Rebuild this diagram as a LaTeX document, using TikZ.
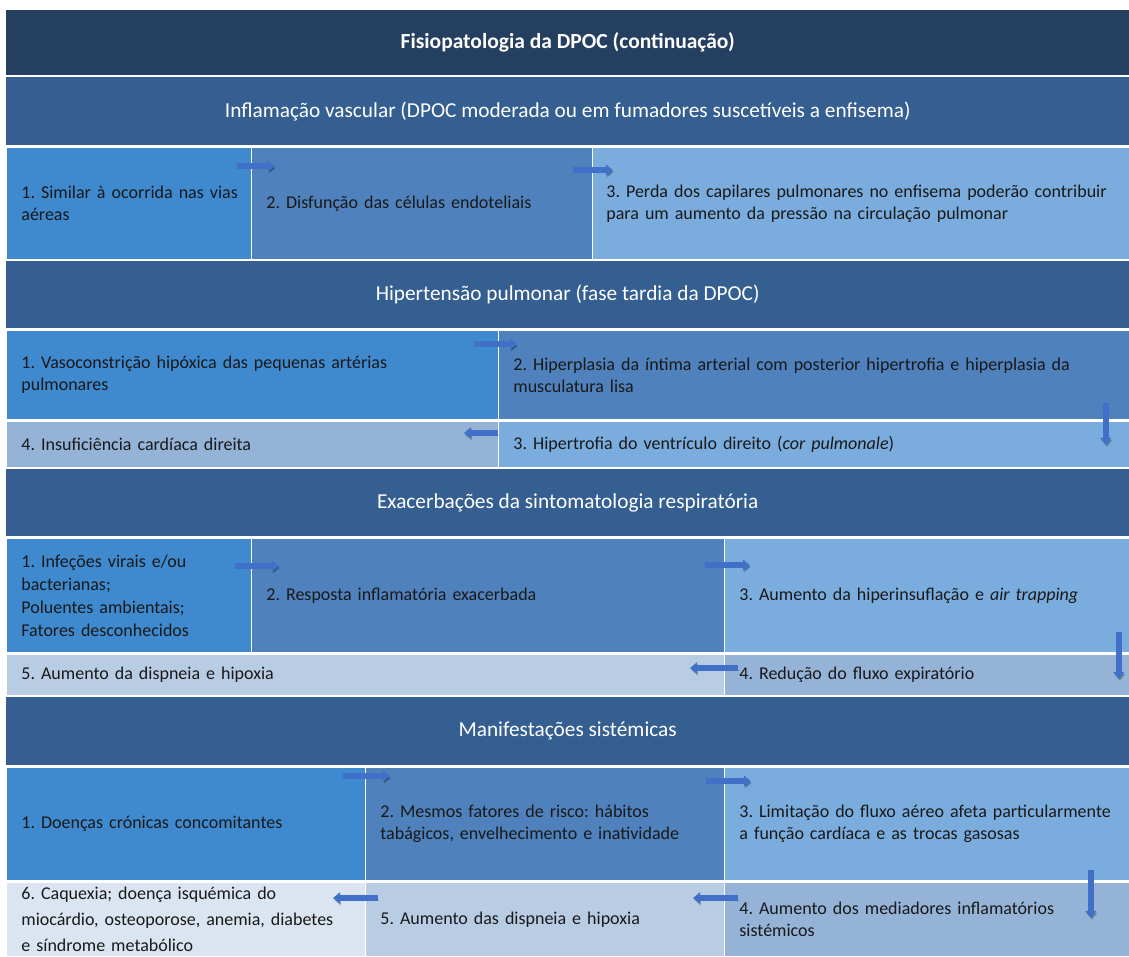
\documentclass[tikz,border=0pt]{standalone}
\usepackage{fontspec}
\setmainfont{Carlito}
\usepackage{tikz}
\usetikzlibrary{arrows.meta}
\frenchspacing

\definecolor{azulescuro}{HTML}{243F60}
\definecolor{azulsecao}{HTML}{365F91}
\definecolor{azulA}{HTML}{3F89CF}
\definecolor{azulB}{HTML}{4F81BD}
\definecolor{azulC}{HTML}{7AADDD}
\definecolor{azulD}{HTML}{95B3D7}
\definecolor{azulE}{HTML}{B8CCE4}
\definecolor{azulF}{HTML}{DBE5F1}
\definecolor{azulseta}{HTML}{4070C8}

\tikzstyle{titulo}  = [rectangle, anchor=north west, draw=none, fill=azulescuro, text=white, font=\fontsize{21.5}{25}\selectfont\bfseries, inner sep=0pt]
\tikzstyle{secao}   = [rectangle, anchor=north west, draw=none, fill=azulsecao, text=white, font=\fontsize{21.3}{26}\selectfont, inner sep=0pt]
\tikzstyle{celula}  = [rectangle, anchor=north west, draw=white, line width=0.8pt, inner xsep=15pt, inner ysep=0pt, align=left, text=black!90, font=\fontsize{18}{22}\selectfont]
\tikzstyle{seta}    = [line width=5.5pt, draw=azulseta, -{Triangle[length=7pt,width=11pt]}, preaction={draw=black, opacity=0.2, transform canvas={shift={(1pt,-2pt)}}}]

\begin{document}
\begin{tikzpicture}[x=1pt,y=-1pt]
        \useasboundingbox (0,0) rectangle (1129,956);

        \node[titulo, minimum width=1123pt, minimum height=65pt] (tit) at (6,10) {Fisiopatologia da DPOC (continuação)};

        \node[secao, minimum width=1123pt, minimum height=68pt] (sec1) at (6,77) {Inflamação vascular (DPOC moderada ou em fumadores suscetíveis a enfisema)};
        \node[celula, fill=azulA, minimum height=112pt, text width=215pt] (c11) at (6,147) {\mbox{1. Similar à ocorrida nas vias}\\aéreas};
        \node[celula, fill=azulB, minimum height=112pt, text width=311pt] (c12) at (251,147) {2. Disfunção das células endoteliais};
        \node[celula, fill=azulC, minimum height=112pt, inner xsep=14pt, text width=509pt] (c13) at (592,147) {3. Perda dos capilares pulmonares no enfisema poderão contribuir\\para um aumento da pressão na circulação pulmonar};

        \node[secao, minimum width=1123pt, minimum height=67pt] (sec2) at (6,261) {Hipertensão pulmonar (fase tardia da DPOC)};
        \node[celula, fill=azulA, minimum height=89pt, text width=462pt] (c21) at (6,330) {1. Vasoconstrição hipóxica das pequenas artérias\\pulmonares};
        \node[celula, fill=azulB, minimum height=89pt, text width=601pt] (c22) at (498,330) {2. Hiperplasia da íntima arterial com posterior hipertrofia e hiperplasia da\\musculatura lisa};
        \node[celula, fill=azulD, minimum height=46pt, text width=462pt] (c24) at (6,421) {4. Insuficiência cardíaca direita};
        \node[celula, fill=azulC, minimum height=46pt, text width=601pt] (c23) at (498,421) {3. Hipertrofia do ventrículo direito (\textit{cor pulmonale})};

        \node[secao, minimum width=1123pt, minimum height=67pt] (sec3) at (6,469) {Exacerbações da sintomatologia respiratória};
        \node[celula, fill=azulA, minimum height=114pt, text width=215pt, font=\fontsize{18}{23}\selectfont] (c31) at (6,538) {1. Infeções virais e/ou\\bacterianas;\\Poluentes ambientais;\\Fatores desconhecidos};
        \node[celula, fill=azulB, minimum height=114pt, text width=443pt] (c32) at (251,538) {2. Resposta inflamatória exacerbada};
        \node[celula, fill=azulC, minimum height=114pt, text width=375pt] (c33) at (724,538) {3. Aumento da hiperinsuflação e \textit{air trapping}};
        \node[celula, fill=azulE, minimum height=41pt, text width=688pt] (c35) at (6,654) {5. Aumento da dispneia e hipoxia};
        \node[celula, fill=azulD, minimum height=41pt, text width=375pt] (c34) at (724,654) {4. Redução do fluxo expiratório};

        \node[secao, minimum width=1123pt, minimum height=68pt] (sec4) at (6,697) {Manifestações sistémicas};
        \node[celula, fill=azulA, minimum height=113pt, text width=329pt] (c41) at (6,767) {1. Doenças crónicas concomitantes};
        \node[celula, fill=azulB, minimum height=113pt, text width=329pt] (c42) at (365,767) {2. Mesmos fatores de risco: hábitos\\tabágicos, envelhecimento e inatividade};
        \node[celula, fill=azulC, minimum height=113pt, text width=375pt] (c43) at (724,767) {3. Limitação do fluxo aéreo afeta particularmente\\a função cardíaca e as trocas gasosas};
        \node[celula, fill=azulF, minimum height=74pt, text width=329pt, font=\fontsize{18}{26}\selectfont] (c46) at (6,882) {6. Caquexia; doença isquémica do\\miocárdio, osteoporose, anemia, diabetes\\e síndrome metabólico};
        \node[celula, fill=azulE, minimum height=74pt, text width=329pt] (c45) at (365,882) {5. Aumento das dispneia e hipoxia};
        \node[celula, fill=azulD, minimum height=74pt, text width=375pt] (c44) at (724,882) {4. Aumento dos mediadores inflamatórios\\sistémicos};

        \draw[seta] ([shift={(-15,19)}]c11.north east) -- ([shift={(23,19)}]c11.north east);
        \draw[seta] ([shift={(-20,23)}]c12.north east) -- ([shift={(20,23)}]c12.north east);

        \draw[seta] ([shift={(-25,14)}]c21.north east) -- ([shift={(18,14)}]c21.north east);
        \draw[seta] ([shift={(-24,-17)}]c22.south east) -- ([shift={(-24,25)}]c22.south east);
        \draw[seta] ([shift={(0,12)}]c23.north west) -- ([shift={(-34,12)}]c23.north west);

        \draw[seta] ([shift={(-17,28)}]c31.north east) -- ([shift={(27,28)}]c31.north east);
        \draw[seta] ([shift={(-20,27)}]c32.north east) -- ([shift={(25,27)}]c32.north east);
        \draw[seta] ([shift={(-11,-21)}]c33.south east) -- ([shift={(-11,26)}]c33.south east);
        \draw[seta] ([shift={(14,14)}]c34.north west) -- ([shift={(-34,14)}]c34.north west);

        \draw[seta] ([shift={(-23,9)}]c41.north east) -- ([shift={(24,9)}]c41.north east);
        \draw[seta] ([shift={(-19,14)}]c42.north east) -- ([shift={(26,14)}]c42.north east);
        \draw[seta] ([shift={(-39,-11)}]c43.south east) -- ([shift={(-39,37)}]c43.south east);
        \draw[seta] ([shift={(14,16)}]c44.north west) -- ([shift={(-31,16)}]c44.north west);
        \draw[seta] ([shift={(13,16)}]c45.north west) -- ([shift={(-32,16)}]c45.north west);
    \end{tikzpicture}
\end{document}
